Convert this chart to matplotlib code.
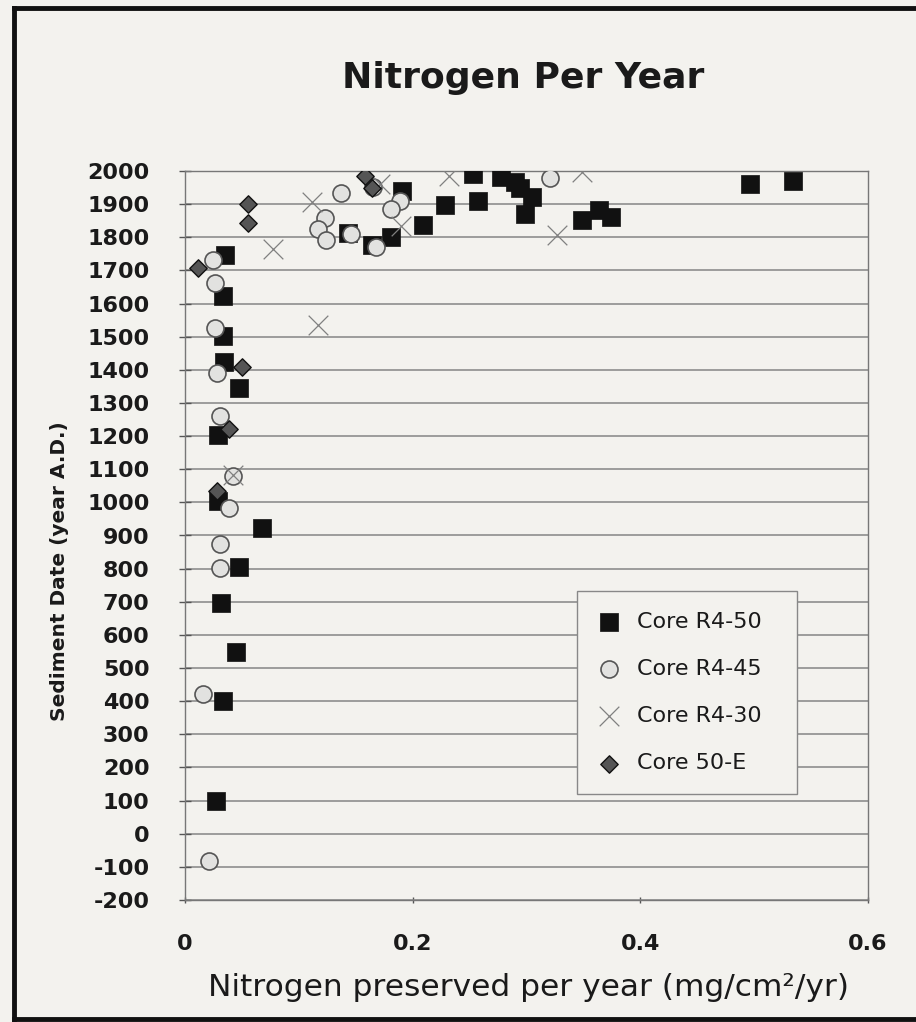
import matplotlib
matplotlib.use("Agg")
import matplotlib.pyplot as plt
from matplotlib.lines import Line2D

plt.rcParams['font.family'] = ['DejaVu Sans']
plt.rcParams['axes.unicode_minus'] = False

BG = '#f3f2ee'

# Core R4-50 (black squares)
r450_x = [0.035, 0.033, 0.033, 0.034, 0.047, 0.029, 0.029, 0.068, 0.047, 0.032,
          0.045, 0.033, 0.027, 0.143, 0.164, 0.181, 0.191, 0.209, 0.228, 0.253,
          0.257, 0.278, 0.290, 0.294, 0.305, 0.299, 0.349, 0.364, 0.374, 0.496, 0.534]
r450_y = [1745, 1624, 1503, 1424, 1345, 1203, 1003, 924, 806, 697,
          548, 400, 100, 1812, 1776, 1800, 1940, 1836, 1897, 1991,
          1909, 1982, 1967, 1948, 1921, 1870, 1852, 1882, 1861, 1961, 1970]

# Core R4-45 (grey circles)
r445_x = [0.025, 0.026, 0.026, 0.028, 0.031, 0.042, 0.039, 0.031, 0.031, 0.016, 0.021,
          0.137, 0.123, 0.117, 0.124, 0.146, 0.168, 0.165, 0.189, 0.181, 0.321]
r445_y = [1730, 1662, 1527, 1391, 1261, 1079, 982, 873, 803, 421, -82,
          1933, 1858, 1824, 1791, 1809, 1770, 1952, 1909, 1885, 1979]

# Core R4-30 (crosses)
r430_x = [0.042, 0.117, 0.077, 0.112, 0.171, 0.190, 0.232, 0.327, 0.349]
r430_y = [1082, 1536, 1764, 1906, 1961, 1833, 1985, 1806, 1997]

# Core 50-E (diamonds)
c50e_x = [0.011, 0.028, 0.039, 0.050, 0.055, 0.055, 0.158, 0.164]
c50e_y = [1706, 1033, 1221, 1409, 1842, 1900, 1985, 1950]

yticks = list(range(-200, 2001, 100))
xticks = [0, 0.2, 0.4, 0.6]

fig = plt.figure(figsize=(9.16, 10.22), dpi=100, facecolor=BG)
ax = fig.add_axes([185 / 916, 1 - 900 / 1022, 683 / 916, 729 / 1022], facecolor=BG)

ax.scatter(r450_x, r450_y, marker='s', s=150, c='#111111', edgecolors='#111111',
           linewidths=0.5, zorder=3, label='Core R4-50')
ax.scatter(r445_x, r445_y, marker='o', s=150, c='#e2e2e0', edgecolors='#555555',
           linewidths=1.2, zorder=4, label='Core R4-45')
ax.scatter(r430_x, r430_y, marker='x', s=200, c='#808080', linewidths=0.9,
           zorder=5, label='Core R4-30')
ax.scatter(c50e_x, c50e_y, marker='D', s=78, c='#555555', edgecolors='#111111',
           linewidths=1.0, zorder=6, label='Core 50-E')

ax.set_xlim(0, 0.6)
ax.set_ylim(-200, 2000)
ax.set_yticks(yticks)
ax.set_xticks(xticks)
ax.set_xticklabels(['0', '0.2', '0.4', '0.6'])
ax.grid(axis='y', color='#858585', linewidth=1.1)
ax.set_axisbelow(True)
for sp in ax.spines.values():
    sp.set_color('#777777')
    sp.set_linewidth(1.0)

ax.tick_params(axis='y', direction='inout', length=9, width=1, color='#555555',
               pad=21, labelsize=16)
ax.tick_params(axis='x', direction='inout', length=5, width=1, color='#555555',
               pad=22, labelsize=16)
for lab in ax.get_yticklabels() + ax.get_xticklabels():
    lab.set_fontweight('bold')
    lab.set_color('#1a1a1a')

leg = ax.legend(loc='upper left', bbox_to_anchor=(0.574, 0.424, 0.322, 0.0),
                mode='expand', borderaxespad=0, fontsize=16, frameon=True,
                fancybox=False, edgecolor='#888888', facecolor=BG, framealpha=1,
                borderpad=0.95, labelspacing=1.22, handlelength=1.0,
                handletextpad=0.75, scatterpoints=1)
leg.get_frame().set_linewidth(1.0)
for t in leg.get_texts():
    t.set_color('#1a1a1a')

fig.text(523 / 916, 1 - 78 / 1022, 'Nitrogen Per Year', ha='center', va='center',
         fontsize=26, fontweight='bold', color='#1a1a1a')
fig.text(60 / 916, 1 - 571 / 1022, 'Sediment Date (year A.D.)', ha='center',
         va='center', rotation=90, fontsize=14.5, fontweight='bold', color='#1a1a1a')
fig.text(529 / 916, 1 - 988 / 1022, 'Nitrogen preserved per year (mg/cm²/yr)',
         ha='center', va='center', fontsize=22.5, color='#1a1a1a')

# dark frame around the slide
fig.add_artist(Line2D([14 / 916, 14 / 916], [0, 1 - 8 / 1022], color='#111111',
                      linewidth=3.5, transform=fig.transFigure))
fig.add_artist(Line2D([14 / 916, 1], [1 - 8 / 1022, 1 - 8 / 1022], color='#111111',
                      linewidth=3.5, transform=fig.transFigure))
fig.add_artist(Line2D([14 / 916, 1], [1 - 1019 / 1022, 1 - 1019 / 1022],
                      color='#111111', linewidth=3.5, transform=fig.transFigure))

fig.savefig('out.png', dpi=100, facecolor=BG)
